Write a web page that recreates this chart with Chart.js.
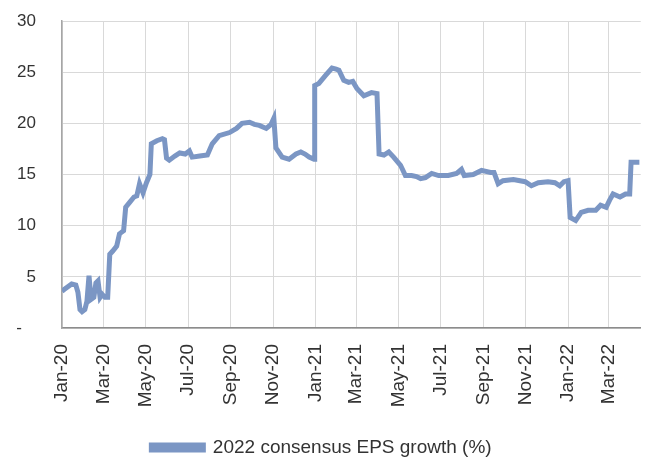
<!DOCTYPE html>
<html lang="en">
<head>
    <meta charset="UTF-8">
    <title>2022 consensus EPS growth</title>
    <script src="https://cdn.jsdelivr.net/npm/chart.js"></script>
    <style>
        html, body { margin: 0; padding: 0; background: #fff; }
        #wrap { width: 648px; height: 459px; position: relative; }
    </style>
</head>
<body>
    <div id="wrap"><canvas id="chart"></canvas></div>

    <script>
        // days since 1 Jan 2020
        var dayIndex = [0, 4, 14, 20, 23, 26, 29, 33, 36, 39, 42, 46, 49, 52, 55, 58, 62, 66, 69, 73,
            79, 83, 89, 92, 98, 104, 108, 112, 117, 122, 127, 129, 137, 145, 148, 151, 155, 163, 170, 178,
            184, 188, 199, 210, 217, 227, 242, 252, 260, 271, 278, 285, 295, 302, 306, 309, 318, 328, 338, 345,
            351, 357, 364, 365, 371, 381, 390, 396, 400, 407, 414, 420, 426, 436, 447, 455, 458, 465, 472, 479,
            489, 496, 505, 512, 518, 525, 534, 544, 558, 570, 577, 581, 594, 606, 619, 624, 630, 637, 652, 669,
            678, 688, 702, 712, 719, 725, 731, 734, 742, 750, 760, 771, 778, 786, 791, 796, 806, 814, 820, 822, 834];

        var epsGrowth = [3.6, 3.8, 4.3, 4.2, 3.5, 1.8, 1.6, 1.8, 2.6, 5.1, 2.8, 3.0, 4.4, 4.6, 3.0, 3.3, 3.0, 3.0, 7.2, 7.5,
            8.0, 9.2, 9.5, 11.8, 12.3, 12.8, 12.9, 14.1, 13.2, 14.2, 15.0, 18.0, 18.3, 18.5, 18.4, 16.6, 16.4, 16.8, 17.1, 17.0,
            17.3, 16.7, 16.8, 16.9, 18.0, 18.8, 19.1, 19.5, 20.0, 20.1, 19.9, 19.8, 19.5, 19.9, 20.5, 17.6, 16.7, 16.5, 17.0, 17.2,
            17.0, 16.7, 16.5, 23.7, 23.9, 24.7, 25.4, 25.3, 25.2, 24.2, 24.0, 24.1, 23.4, 22.7, 23.0, 22.9, 17.0, 16.9, 17.2, 16.7,
            15.9, 14.9, 14.9, 14.8, 14.6, 14.7, 15.1, 14.9, 14.9, 15.1, 15.5, 14.9, 15.0, 15.4, 15.2, 15.2, 14.1, 14.4, 14.5, 14.3,
            13.9, 14.2, 14.3, 14.2, 13.9, 14.3, 14.4, 10.8, 10.5, 11.3, 11.5, 11.5, 12.0, 11.8, 12.5, 13.1, 12.8, 13.1, 13.1, 16.2, 16.2];

        var tickLabels = ['Jan-20', 'Mar-20', 'May-20', 'Jul-20', 'Sep-20', 'Nov-20', 'Jan-21',
            'Mar-21', 'May-21', 'Jul-21', 'Sep-21', 'Nov-21', 'Jan-22', 'Mar-22'];
        var yTicks = [0, 5, 10, 15, 20, 25, 30];

        var monthNames = ['Jan', 'Feb', 'Mar', 'Apr', 'May', 'Jun', 'Jul', 'Aug', 'Sep', 'Oct', 'Nov', 'Dec'];
        var start = Date.UTC(2020, 0, 1);
        var tickDays = tickLabels.map(function (l) {
            var parts = l.split('-');
            var d = Date.UTC(2000 + parseInt(parts[1], 10), monthNames.indexOf(parts[0]), 1);
            return Math.round((d - start) / 86400000);
        });

        var points = dayIndex.map(function (d, i) { return { x: d, y: epsGrowth[i] }; });
        var lineColor = '#7b96c4';
        var textColor = '#333333';
        var fontFamily = '"Liberation Sans", Arial, sans-serif';

        new Chart(document.getElementById('chart').getContext('2d'), {
            type: 'line',
            data: {
                datasets: [{
                    label: '2022 consensus EPS growth (%)',
                    data: points,
                    borderColor: lineColor,
                    backgroundColor: lineColor,
                    borderWidth: 5,
                    pointRadius: 0,
                    tension: 0,
                    fill: false
                }]
            },
            options: {
                responsive: true,
                maintainAspectRatio: false,
                animation: false,
                layout: { padding: { top: 0, right: 5, left: 0, bottom: -8 } },
                plugins: {
                    tooltip: { enabled: false },
                    legend: {
                        position: 'bottom',
                        labels: {
                            boxWidth: 52,
                            boxHeight: 5,
                            padding: 3,
                            color: textColor,
                            font: { family: fontFamily, size: 19 }
                        }
                    }
                },
                scales: {
                    x: {
                        type: 'linear',
                        min: 0,
                        max: 836,
                        afterBuildTicks: function (scale) {
                            scale.ticks = tickDays.map(function (v) { return { value: v }; });
                        },
                        afterFit: function (scale) { scale.height = 107; },
                        grid: { color: '#d9d9d9', drawTicks: false },
                        border: { color: '#8c8c8c', width: 1.5 },
                        ticks: {
                            autoSkip: false,
                            minRotation: 90,
                            maxRotation: 90,
                            padding: 16,
                            color: textColor,
                            font: { family: fontFamily, size: 19 },
                            callback: function (v, i) { return tickLabels[i]; }
                        }
                    },
                    y: {
                        min: 0,
                        max: 30,
                        afterBuildTicks: function (scale) {
                            scale.ticks = yTicks.map(function (v) { return { value: v }; });
                        },
                        afterFit: function (scale) {
                            scale.width = 62;
                            scale.paddingTop = 21;
                            scale.paddingBottom = 10;
                        },
                        grid: { color: '#d9d9d9', drawTicks: false },
                        border: { color: '#a6a6a6', width: 1.5 },
                        ticks: {
                            padding: 26,
                            color: textColor,
                            font: { family: fontFamily, size: 17 },
                            callback: function (v) { return v === 0 ? '-   ' : String(v); }
                        }
                    }
                }
            }
        });
    </script>
</body>
</html>
